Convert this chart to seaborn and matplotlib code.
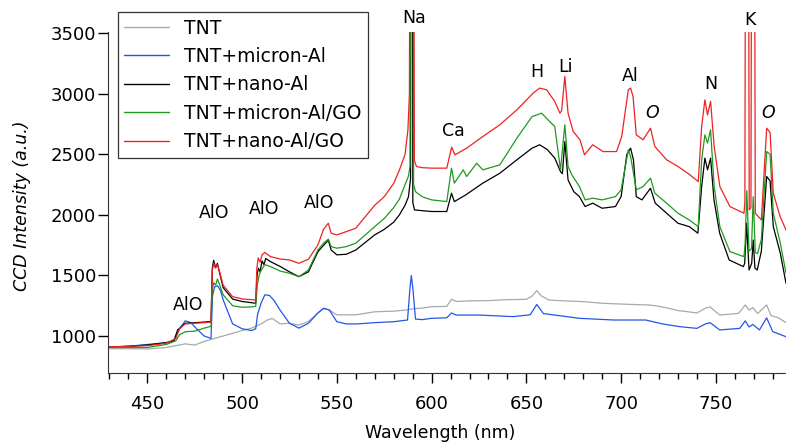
import matplotlib
matplotlib.use("Agg")
import matplotlib.pyplot as plt
from matplotlib.ticker import MultipleLocator
import seaborn as sns

# --- spectra (wavelength in nm, CCD intensity in a.u.) ---
tnt_wl = [430, 440, 450, 460, 470, 475, 480, 490, 500, 505, 510, 513, 516, 520, 525, 530, 535,
          540, 543, 546, 550, 560, 570, 580, 587, 590, 595, 600, 608, 610.5, 613, 620, 630, 640,
          650, 653, 655.5, 658, 662, 670, 680, 690, 700, 710, 715, 720, 725, 730, 735, 740,
          744.5, 747, 752, 757, 762, 765.5, 767.5, 769.5, 772, 776.8, 779, 783, 787]
tnt = [895, 895, 893, 905, 935, 925, 955, 1000, 1045, 1065, 1100, 1130, 1145, 1100, 1105, 1090,
       1120, 1190, 1225, 1215, 1175, 1175, 1200, 1205, 1215, 1225, 1230, 1242, 1245, 1303, 1285,
       1290, 1292, 1300, 1303, 1330, 1375, 1330, 1297, 1290, 1284, 1270, 1264, 1258, 1256, 1245,
       1229, 1210, 1201, 1190, 1230, 1240, 1173, 1180, 1187, 1256, 1215, 1235, 1185, 1256, 1170,
       1150, 1110]

micron_wl = [430, 440, 450, 460, 464, 467, 470, 473, 476, 480, 483.6, 484.4, 485.5, 487, 488.5,
             490, 493, 495, 500, 505, 507.2, 508.2, 510, 512, 514.5, 517, 520, 525, 530, 535, 540,
             543, 546, 550, 555, 560, 570, 580, 587.3, 588.5, 589.3, 590.2, 591.5, 595, 600, 608,
             610.5, 613, 625, 643, 652, 655.5, 659, 665, 678, 696, 713, 722, 731, 740, 744.5, 747,
             752, 762.6, 765.5, 767.5, 769.5, 773, 776.8, 780, 787]
micron = [905, 915, 930, 945, 960, 1060, 1125, 1110, 1060, 1000, 980, 1330, 1405, 1415, 1380,
          1300, 1180, 1100, 1060, 1045, 1060, 1180, 1270, 1340, 1335, 1290, 1215, 1105, 1065,
          1105, 1190, 1230, 1215, 1118, 1100, 1099, 1110, 1118, 1132, 1380, 1500, 1380, 1140,
          1135, 1146, 1150, 1190, 1173, 1173, 1160, 1175, 1260, 1185, 1173, 1146, 1132, 1132,
          1099, 1077, 1063, 1100, 1110, 1050, 1063, 1125, 1075, 1095, 1050, 1150, 1036, 994]

nano_wl = [430, 440, 450, 460, 464, 466, 470, 475, 480, 483.6, 484.3, 485, 486, 487, 488, 490,
           495, 500, 505, 507.2, 507.9, 508.6, 509.5, 510.5, 511.5, 512.5, 515, 520, 525, 530,
           535, 540, 543, 545.5, 547, 550, 555, 560, 570, 575, 580, 583, 586, 587.8, 588.9,
           589.2, 589.8, 590.1, 591, 595, 600, 608, 610.5, 612, 618, 627, 636, 645, 653, 657,
           661, 665, 668, 669, 670.3, 672, 675, 678, 681, 685, 690, 697, 700, 703, 705, 706.5,
           708, 711, 715.5, 718, 724, 730, 736, 740.5, 742.5, 744.2, 745.6, 747.2, 749, 752, 757,
           764.5, 765.2, 766.2, 767.5, 768.9, 769.7, 770.6, 771.8, 774, 776.8, 778.6, 780.3, 784,
           787]
nano = [910, 915, 925, 945, 960, 1050, 1105, 1110, 1115, 1120, 1560, 1625, 1565, 1600, 1530,
        1400, 1305, 1285, 1275, 1270, 1500, 1560, 1530, 1620, 1590, 1640, 1614, 1575, 1530, 1490,
        1530, 1695, 1750, 1790, 1710, 1670, 1675, 1710, 1835, 1880, 1940, 2000, 2080, 2150, 2300,
        6000, 6000, 2100, 2041, 2035, 2028, 2028, 2179, 2110, 2165, 2262, 2344, 2455, 2551, 2579,
        2540, 2469, 2358, 2340, 2606, 2289, 2192, 2151, 2069, 2097, 2055, 2069, 2151, 2500, 2551,
        2455, 2151, 2124, 2220, 2097, 2014, 1931, 1903, 1849, 2234, 2469, 2372, 2469, 2124, 1849,
        1628, 1573, 1600, 1931, 1545, 1600, 1793, 1560, 1545, 1700, 2317, 2280, 1903, 1683, 1435]

micron_go_wl = [430, 440, 450, 460, 465, 467, 470, 475, 480, 483.6, 484.3, 485, 486, 487, 488,
                490, 495, 500, 505, 507.2, 508, 509, 510, 512, 515, 520, 525, 530, 535, 540, 543,
                545.5, 547, 550, 555, 560, 570, 575, 580, 583, 586, 587.8, 588.6, 589.0, 590.1,
                590.5, 591.5, 595, 600, 608, 610.5, 612, 616.7, 618.5, 623.8, 627, 636, 645, 653,
                658, 663, 665, 668, 670.3, 672, 674, 678, 681, 685, 690, 697, 700, 703.8, 705, 708,
                711.6, 715.5, 717.8, 724, 730, 736, 740.7, 742.5, 744.2, 745.6, 747.2, 749.1,
                752.1, 757.4, 764.8, 765.4, 766.3, 767.5, 768.8, 769.7, 770.8, 772, 774, 776.8,
                778.6, 780.3, 784, 787]
micron_go = [905, 905, 905, 930, 960, 1010, 1035, 1040, 1065, 1080, 1380, 1440, 1420, 1470, 1430,
             1340, 1250, 1237, 1240, 1245, 1420, 1500, 1540, 1590, 1573, 1537, 1518, 1490, 1545,
             1710, 1766, 1800, 1738, 1725, 1738, 1766, 1903, 1970, 2060, 2130, 2250, 2320, 2400,
             6000, 6000, 2250, 2192, 2150, 2124, 2110, 2386, 2262, 2372, 2317, 2427, 2372, 2413,
             2634, 2812, 2840, 2760, 2730, 2372, 2744, 2400, 2331, 2234, 2124, 2138, 2124, 2151,
             2207, 2537, 2482, 2207, 2234, 2303, 2179, 2097, 2014, 1958, 1903, 2455, 2661, 2593,
             2702, 2234, 1903, 1697, 1655, 1750, 2200, 1700, 1720, 2150, 1690, 1680, 1800, 2523,
             2500, 2014, 1766, 1518]

nano_go_wl = [430, 440, 450, 460, 465, 467, 470, 475, 480, 483.6, 484.3, 485, 486, 487, 488, 490,
              495, 500, 505, 507.2, 507.8, 508.5, 509.5, 510.5, 512, 515, 520, 525, 530, 535, 540,
              543, 545.5, 547, 550, 555, 560, 570, 575, 580, 583, 586, 587.5, 588.3, 588.7, 590.5,
              590.9, 592, 595, 600, 608, 610.6, 612.3, 618.5, 627, 636, 645, 653.6, 657, 660.7,
              665, 667.7, 668.6, 670.3, 672, 674.7, 678.3, 680.7, 685, 690.5, 697.6, 700.3, 703.8,
              705, 706.3, 708, 711.6, 715.5, 717.8, 724, 730, 736.3, 740.7, 742.5, 744.2, 745.6,
              747.2, 749.1, 752.1, 757.4, 764.8, 765.3, 765.8, 767.0, 767.6, 768.5, 769.0, 770.2,
              770.8, 774, 776.8, 778.6, 780.3, 783.9, 787]
nano_go = [910, 915, 920, 940, 980, 1060, 1100, 1105, 1110, 1115, 1540, 1600, 1560, 1590, 1540,
           1420, 1325, 1306, 1300, 1297, 1560, 1645, 1610, 1670, 1690, 1655, 1636, 1628, 1600,
           1634, 1752, 1882, 1931, 1849, 1835, 1862, 1890, 2080, 2150, 2260, 2370, 2500, 2700,
           3000, 6000, 6000, 2450, 2400, 2390, 2386, 2386, 2559, 2496, 2551, 2647, 2744, 2868,
           3006, 3047, 3033, 2937, 2840, 2860, 3144, 2840, 2689, 2620, 2496, 2579, 2523, 2523,
           2647, 3033, 3047, 2978, 2661, 2620, 2716, 2565, 2455, 2400, 2331, 2275, 2730, 2950,
           2826, 2937, 2565, 2234, 2069, 2014, 2100, 6000, 6000, 2041, 2060, 6000, 6000, 2014,
           1958, 2716, 2680, 2179, 1986, 1876]

series = [
    ("TNT", tnt_wl, tnt, "#a9a9a9"),
    ("TNT+micron-Al", micron_wl, micron, "#2356e8"),
    ("TNT+nano-Al", nano_wl, nano, "black"),
    ("TNT+micron-Al/GO", micron_go_wl, micron_go, "#1e9a1e"),
    ("TNT+nano-Al/GO", nano_go_wl, nano_go, "#ee2222"),
]

# element labels: (text, wavelength, intensity, italic)
peak_labels = [
    ("Na", 590.9, 3628, False), ("K", 768.2, 3611, False), ("Ca", 611.4, 2694, False),
    ("H", 655.6, 3182, False), ("Li", 670.9, 3223, False), ("Al", 704.6, 3149, False),
    ("O", 716.2, 2843, True), ("N", 747.2, 3083, False), ("O", 777.7, 2843, True),
    ("AlO", 471.4, 1256, False), ("AlO", 485.1, 2017, False), ("AlO", 511.4, 2050, False),
    ("AlO", 540.9, 2099, False),
]

sns.set_style("ticks")
plt.rcParams['font.family'] = ['DejaVu Sans']
plt.rcParams['text.color'] = 'black'
plt.rcParams['axes.labelcolor'] = 'black'
plt.rcParams['xtick.color'] = 'black'
plt.rcParams['ytick.color'] = 'black'

fig = plt.figure(figsize=(7.86, 4.45), dpi=100)
ax = fig.add_axes([0.138, 0.1625, 0.862, 0.7655])

for name, wl, val, col in series:
    sns.lineplot(x=wl, y=val, ax=ax, color=col, linewidth=0.9, label=name)

for txt, x, y, it in peak_labels:
    ax.text(x, y, txt, ha='center', va='center', fontsize=12.5, color='black',
            style='italic' if it else 'normal', clip_on=False)

ax.set_xlim(429.5, 787)
ax.set_ylim(697, 3510)
ax.xaxis.set_major_locator(MultipleLocator(50))
ax.xaxis.set_minor_locator(MultipleLocator(10))
ax.yaxis.set_major_locator(MultipleLocator(500))
ax.tick_params(axis='x', which='major', length=7, width=1, pad=9, labelsize=13)
ax.tick_params(axis='x', which='minor', length=4, width=1)
ax.tick_params(axis='y', which='major', length=7, width=1, pad=2, labelsize=13)
sns.despine(ax=ax)
for sp in ['left', 'bottom']:
    ax.spines[sp].set_color('#333333')

ax.set_xlabel("Wavelength (nm)", fontsize=12.5)
ax.set_ylabel("CCD Intensity (a.u.)", fontsize=12.5, style='italic')
ax.xaxis.set_label_coords(0.49, -0.15)
ax.yaxis.set_label_coords(-0.114, 0.49)

leg = ax.legend(loc='upper left', bbox_to_anchor=(0.150, 0.973), bbox_transform=fig.transFigure,
                fontsize=13.5, frameon=True, fancybox=False, handlelength=2.4,
                handletextpad=0.8, labelspacing=0.5, borderpad=0.35, borderaxespad=0)
leg.get_frame().set_edgecolor('black')
leg.get_frame().set_linewidth(0.9)
for line in leg.get_lines():
    line.set_linewidth(1.0)

fig.savefig("out.png", dpi=100)
